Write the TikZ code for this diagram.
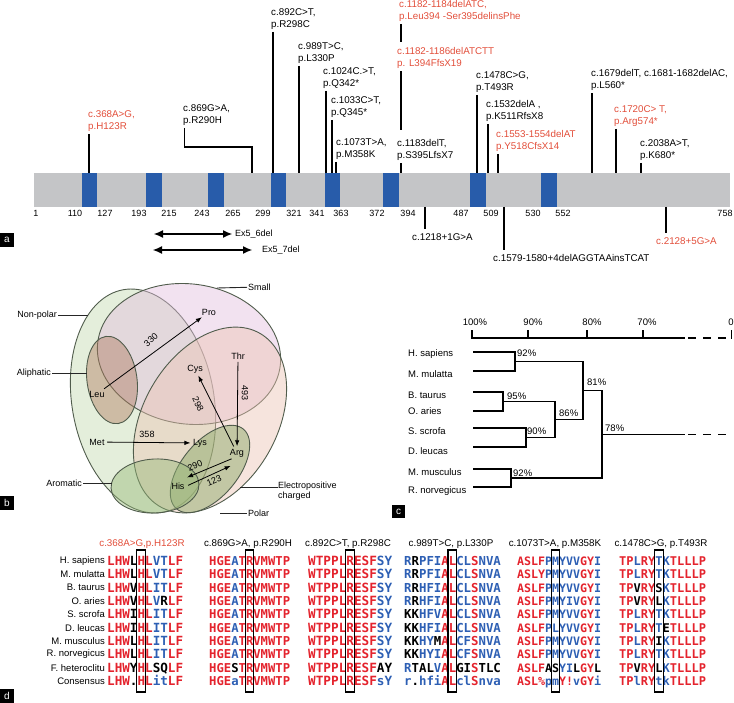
\documentclass[tikz,border=0pt]{standalone}
\usepackage{fontspec}
\setmainfont{Liberation Sans}
\newfontfamily\seqfont{DejaVu Sans Mono}
\usetikzlibrary{arrows.meta}
\definecolor{mutred}{RGB}{226,78,58}
\definecolor{exonblue}{RGB}{40,92,170}
\definecolor{bargray}{RGB}{196,197,199}
\definecolor{seqred}{RGB}{228,35,45}
\definecolor{seqblue}{RGB}{45,95,180}
\definecolor{vennline}{RGB}{80,92,76}
\definecolor{vnonpolar}{RGB}{196,218,176}
\definecolor{vsmall}{RGB}{226,190,222}
\definecolor{vpolar}{RGB}{236,196,180}
\definecolor{valiph}{RGB}{176,124,96}
\definecolor{vepos}{RGB}{130,165,95}
\definecolor{varom}{RGB}{150,185,120}
\newcommand\aR[1]{\textcolor{seqred}{#1}}
\newcommand\aB[1]{\textcolor{seqblue}{#1}}
\newcommand\aK[1]{\textcolor{black}{#1}}

\tikzset{
  mut/.style={font=\fontsize{9.8}{11.5}\selectfont, align=left, anchor=north west, inner sep=0pt},
  stem/.style={line width=1.3pt},
  numlbl/.style={font=\fontsize{9}{10}\selectfont, inner sep=0pt},
  plabel/.style={fill=black, text=white, font=\fontsize{10}{10}\selectfont, minimum width=14pt, minimum height=14pt, inner sep=0pt},
  venn/.style={draw=vennline, line width=0.9pt, fill opacity=0.45},
  aa/.style={font=\fontsize{9}{10}\selectfont, inner sep=1pt},
  lead/.style={line width=0.9pt, draw=black!85},
  arr/.style={-{Latex[length=6pt,width=4.5pt]}, line width=0.8pt, shorten <=1.5pt, shorten >=1.5pt},
  dbl/.style={{Latex[length=9pt,width=8pt]}-{Latex[length=9pt,width=8pt]}, line width=1.1pt},
  dendro/.style={line width=1.2pt},
  sp/.style={font=\fontsize{9.5}{10}\selectfont, inner sep=0pt},
  ttl/.style={font=\fontsize{9.8}{10}\selectfont, inner sep=0pt},
  seq/.style={font=\seqfont\bfseries\fontsize{#1}{#1}\selectfont, inner sep=0pt, anchor=base west},
  colbox/.style={line width=1.1pt}
}

\begin{document}
\begin{tikzpicture}[x=1pt,y=-1pt]
\useasboundingbox (0,0) rectangle (734,703);

% ---------- a: protein map
\fill[bargray] (34,173) rectangle (730,207);
\foreach \a/\b in {82/97,146/162,208/224,271/286,325/340,383/399,470/486,541/557}
  \fill[exonblue] (\a,173) rectangle (\b,207);
\coordinate (bartop) at (0,173);
\coordinate (barbot) at (0,207);
\foreach \x/\v in {36/1,75/110,105/127,139/193,169/215,202/243,233/265,263/299,294/321,317/341,341/363,
                   377/372,408/394,461/487,491/509,533/530,563/552,725/758}
  \node[numlbl] (n\v) at (\x,213) {\v};

\foreach \n/\x/\y/\col/\txt in {
  m368/88/110.5/mutred/{c.368A>G,\\p.H123R},
  m869/183/104.5/black/{c.869G>A,\\p.R290H},
  m892/271/8.5/black/{c.892C>T,\\p.R298C},
  m989/298/42.5/black/{c.989T>C,\\p.L330P},
  m1024/323/67.5/black/{c.1024C.>T,\\p.Q342*},
  m1033/331/96.5/black/{c.1033C>T,\\p.Q345*},
  m1073/336/138.5/black/{c.1073T>A,\\p.M358K},
  m1182a/399/0.5/mutred/{c.1182-1184delATC,\\p.Leu394 -Ser395delinsPhe},
  m1182b/397/47.5/mutred/{c.1182-1186delATCTT\\p. L394FfsX19},
  m1183/397/139.5/black/{c.1183delT,\\p.S395LfsX7},
  m1478/476/71.5/black/{c.1478C>G,\\p.T493R},
  m1532/486/100.5/black/{c.1532delA ,\\p.K511RfsX8},
  m1553/496/130.5/mutred/{c.1553-1554delAT\\p.Y518CfsX14},
  m1679/591/69.5/black/{c.1679delT, c.1681-1682delAC,\\p.L560*},
  m1720/614/105.5/mutred/{c.1720C> T,\\p.Arg574*},
  m2038/640/139.5/black/{c.2038A>T,\\p.K680*},
  m1218/412/233.5/black/{c.1218+1G>A},
  m1579/493/254.5/black/{c.1579-1580+4delAGGTAAinsTCAT},
  m2128/656/237.5/mutred/{c.2128+5G>A}}
  { \node[mut, text=\col] (\n) at (\x,\y) {\txt}; }

\foreach \n/\sx in {m368/89,m892/273,m989/299,m1024/326,m1033/332,m1073/336,m1183/401,
                    m1478/477,m1532/488,m1553/498,m1679/592,m1720/616,m2038/641}{
  \coordinate (\n-s) at (\sx,173);
  \draw[stem, shorten <=2.5pt] (\n.south -| \n-s) -- (\n-s);
}
\draw[stem, shorten <=2.5pt, shorten >=5pt] (m1182a.south -| m1183-s) -- (m1182b.north -| m1183-s);
\draw[stem, shorten <=2.5pt, shorten >=9pt] (m1182b.south -| m1183-s) -- (m1183.north -| m1183-s);
\coordinate (m869-k) at (252,147);
\draw[stem, shorten <=2.5pt] ([xshift=1.5pt]m869.south west) |- (m869-k) -- (m869-k |- bartop);
\foreach \n/\sx in {m1218/425,m1579/504,m2128/666}{
  \coordinate (\n-s) at (\sx,207);
  \draw[stem, shorten >=4pt] (\n-s) -- (\n.north -| \n-s);
}

% exon deletions
\coordinate (e56a) at (154,234); \coordinate (e56b) at (232,234);
\coordinate (e57a) at (153,250); \coordinate (e57b) at (252,250);
\node[numlbl, anchor=west] (e56) at (235,234) {Ex5\_6del};
\node[numlbl, anchor=west] (e57) at (262,250) {Ex5\_7del};
\draw[dbl] (e56a) -- (e56b);
\draw[dbl] (e57a) -- (e57b);
\node[plabel] (pa) at (7,240) {a};

% ---------- b: Venn of residues
\filldraw[venn, fill=vnonpolar, rotate around={10:(143,401)}] (143,401) ellipse [x radius=71, y radius=113];
\filldraw[venn, fill=vsmall, rotate around={-8:(189,354)}] (189,354) ellipse [x radius=92, y radius=70];
\filldraw[venn, fill=vpolar, rotate around={-30:(210,420)}] (210,420) ellipse [x radius=67, y radius=100];
\filldraw[venn, fill=valiph, rotate around={8:(112,380)}] (112,380) ellipse [x radius=25, y radius=44];
\filldraw[venn, fill=vepos, rotate around={-40:(210,469)}] (210,469) ellipse [x radius=28, y radius=52];
\filldraw[venn, fill=varom, rotate around={3:(155,486)}] (155,486) ellipse [x radius=44, y radius=27];

\node[aa, anchor=west] (lsmall) at (247,287) {Small};
\node[aa, anchor=east] (lnonpolar) at (58,315) {Non-polar};
\node[aa, anchor=east] (laliph) at (52,373) {Aliphatic};
\node[aa, anchor=east] (larom) at (83,483) {Aromatic};
\node[aa, anchor=north west, align=left, inner sep=0pt] (lepos) at (278,482) {Electropositive\\charged};
\node[aa, anchor=west] (lpolar) at (247,513) {Polar};
\coordinate (psmall) at (217,288);
\coordinate (pnonpolar) at (88,315);
\coordinate (paliph) at (87,373);
\coordinate (parom) at (112,483);
\coordinate (pepos) at (240,487);
\coordinate (ppolar) at (220,513);
\draw[lead] (psmall) -- (lsmall);
\draw[lead] (lnonpolar) -- (pnonpolar);
\draw[lead] (laliph) -- (paliph);
\draw[lead] (larom) -- (parom);
\draw[lead] (pepos) -- (pepos -| lepos.west);
\draw[lead] (ppolar) -- (lpolar);

\node[aa] (pro) at (209,312) {Pro};
\node[aa] (thr) at (238,356) {Thr};
\node[aa] (cys) at (195,369) {Cys};
\node[aa] (leu) at (97,394) {Leu};
\node[aa] (met) at (97,442) {Met};
\node[aa] (lys) at (200,443) {Lys};
\node[aa] (arg) at (237,453) {Arg};
\node[aa] (his) at (178,486) {His};
\draw[arr] (leu) -- (pro);
\draw[arr] (thr) -- (arg);
\draw[arr] (arg) -- (cys);
\draw[arr] (met) -- (lys);
\draw[arr] ([xshift=-4pt]arg.south) -- ([yshift=3.5pt]his.north east);
\draw[arr] ([xshift=1pt]his.east) -- ([xshift=-5pt,yshift=-7pt]arg.south);
\node[aa, rotate=42, inner sep=0pt] (w330) at (151,340) {330};
\node[aa, rotate=-90, inner sep=0pt] (w493) at (245,393) {493};
\node[aa, rotate=-65, inner sep=0pt] (w298) at (198,404) {298};
\node[aa, inner sep=0pt] (w358) at (147,434) {358};
\node[aa, rotate=23, inner sep=0pt] (w290) at (195,466) {290};
\node[aa, rotate=23, inner sep=0pt] (w123) at (214,481) {123};
\node[plabel] (pb) at (7,503) {b};

% ---------- c: identity tree
\foreach \x/\v in {475/100\%,533/90\%,592/80\%,647/70\%,731/0}
  \node[sp] at (\x,322) {\v};
\draw[dendro] (472,338) -- (685,338);
\draw[dendro, dash pattern=on 8pt off 7pt, dash phase=12pt] (685,338) -- (732,338);
\foreach \x in {472,528,587,643,731.5}
  \draw[dendro] (\x,338.6) -- ++(0,-8.6);

\foreach \i/\s/\y in {1/H. sapiens/354,2/M. mulatta/374,3/B. taurus/395,4/O. aries/411,
                      5/S. scrofa/431,6/D. leucas/451,7/M. musculus/472,8/R. norvegicus/491}
  \node[sp, anchor=west] (c\i) at (408,\y) {\s};
\foreach \i/\y in {1/352,2/371,3/392,4/411,5/428,6/447,7/469,8/487}
  \coordinate (lf\i) at (473,\y);
\coordinate (n92a) at (515,361.5);
\coordinate (n95) at (503,401.5);
\coordinate (n90) at (526,437.5);
\coordinate (n92b) at (511,478);
\coordinate (n86) at (555,419.5);
\coordinate (n81) at (583,390.5);
\coordinate (n78) at (602,434.5);
\coordinate (rootend) at (685,434.5);
\coordinate (rootdash) at (732,434.5);
\draw[dendro] (lf1) -| (n92a) |- (lf2);
\draw[dendro] (lf3) -| (n95) |- (lf4);
\draw[dendro] (lf5) -| (n90) |- (lf6);
\draw[dendro] (lf7) -| (n92b) |- (lf8);
\draw[dendro] (n95) -| (n86) |- (n90);
\draw[dendro] (n92a) -| (n81) |- (n86);
\draw[dendro] (n81) -| (n78) |- (n92b);
\draw[dendro] (n78) -- (rootend);
\draw[dendro, dash pattern=on 8pt off 7pt, dash phase=12pt] (rootend) -- (rootdash);
\node[sp, anchor=west] (b92a) at (517,353) {92\%};
\node[sp, anchor=west] (b95) at (507,396) {95\%};
\node[sp, anchor=west] (b90) at (527,431) {90\%};
\node[sp, anchor=west] (b86) at (559,413) {86\%};
\node[sp, anchor=west] (b81) at (587,382) {81\%};
\node[sp, anchor=west] (b78) at (605,428) {78\%};
\node[sp, anchor=west] (b92b) at (513,473) {92\%};
\node[plabel, minimum width=13pt, minimum height=13pt] (pc) at (398.5,511.5) {c};

% ---------- d: alignments
\foreach \s [count=\i] in {H. sapiens,M. mulatta,B. taurus,O. aries,S. scrofa,D. leucas,
                           M. musculus,R. norvegicus,F. heteroclitu,Consensus}
  \node[sp, anchor=east] (d\i) at (105,{547.7+13.33*\i}) {\s};

\node[ttl, text=mutred] (t1) at (142,544) {c.368A>G,p.H123R};
\node[ttl] (t2) at (248,544) {c.869G>A, p.R290H};
\node[ttl] (t3) at (348,544) {c.892C>T, p.R298C};
\node[ttl] (t4) at (451,544) {c.989T>C, p.L330P};
\node[ttl] (t5) at (555,544) {c.1073T>A, p.M358K};
\node[ttl] (t6) at (661,544) {c.1478C>G, p.T493R};

\foreach \s [count=\i] in {
  {\aR{LHW}\aK{L}\aR{HL}\aB{VT}\aR{LF}},{\aR{LHW}\aK{L}\aR{HL}\aB{VT}\aR{LF}},
  {\aR{LHW}\aK{V}\aR{HL}\aB{IT}\aR{LF}},{\aR{LHW}\aK{V}\aR{HL}\aB{V}\aK{R}\aR{LF}},
  {\aR{LHW}\aK{I}\aR{HL}\aB{IT}\aR{LF}},{\aR{LHW}\aK{I}\aR{HL}\aB{IT}\aR{LF}},
  {\aR{LHW}\aK{L}\aR{HL}\aB{IT}\aR{LF}},{\aR{LHW}\aK{L}\aR{HL}\aB{IT}\aR{LF}},
  {\aR{LHW}\aK{Y}\aR{HL}\aK{SQ}\aR{LF}},{\aR{LHW}\aK{.}\aR{HL}\aB{it}\aR{LF}}}
  \node[seq=12.62] (q1r\i) at (107,{552.3+13.33*\i}) {\s};
\draw[colbox] ({107+4*7.6-0.6},550) rectangle ({107+5*7.6+0.6},692);

\foreach \s [count=\i] in {
  {\aR{HGE}\aB{A}\aR{TRVMWTP}},{\aR{HGE}\aB{A}\aR{TRVMWTP}},{\aR{HGE}\aB{A}\aR{TRVMWTP}},
  {\aR{HGE}\aB{A}\aR{TRVMWTP}},{\aR{HGE}\aB{A}\aR{TRVMWTP}},{\aR{HGE}\aB{A}\aR{TRVMWTP}},
  {\aR{HGE}\aB{A}\aR{TRVMWTP}},{\aR{HGE}\aB{A}\aR{TRVMWTP}},{\aR{HGE}\aK{S}\aR{TRVMWTP}},
  {\aR{HGE}\aB{a}\aR{TRVMWTP}}}
  \node[seq=12.23] (q2r\i) at (209,{552.3+13.33*\i}) {\s};
\draw[colbox] ({209+5*7.36-0.6},550) rectangle ({209+6*7.36+0.6},692);

\foreach \s [count=\i] in {
  {\aR{WTPPLRESF}\aB{SY}},{\aR{WTPPLRESF}\aB{SY}},{\aR{WTPPLRESF}\aB{SY}},{\aR{WTPPLRESF}\aB{SY}},
  {\aR{WTPPLRESF}\aB{SY}},{\aR{WTPPLRESF}\aB{SY}},{\aR{WTPPLRESF}\aB{SY}},{\aR{WTPPLRESF}\aB{SY}},
  {\aR{WTPPLRESF}\aK{AY}},{\aR{WTPPLRESF}\aB{sY}}}
  \node[seq=12.69] (q3r\i) at (308,{552.3+13.33*\i}) {\s};
\draw[colbox] ({308+5*7.64-0.6},550) rectangle ({308+6*7.64+0.6},692);

\foreach \s [count=\i] in {
  {\aB{R}\aK{R}\aB{PFI}\aR{AL}\aB{CL}\aR{S}\aB{NVA}},{\aB{R}\aK{R}\aB{PFI}\aR{AL}\aB{CL}\aR{S}\aB{NVA}},
  {\aB{R}\aK{R}\aB{HFI}\aR{AL}\aB{CL}\aR{S}\aB{NVA}},{\aB{R}\aK{R}\aB{HFI}\aR{AL}\aB{CL}\aR{S}\aB{NVA}},
  {\aK{KK}\aB{HFV}\aR{AL}\aB{CL}\aR{S}\aB{NVA}},{\aK{KK}\aB{HFI}\aR{AL}\aB{CL}\aR{S}\aB{NVA}},
  {\aK{KK}\aB{HY}\aK{M}\aR{AL}\aB{CF}\aR{S}\aB{NVA}},{\aK{KK}\aB{HYI}\aR{AL}\aB{CF}\aR{S}\aB{NVA}},
  {\aB{R}\aK{TAL}\aB{V}\aR{AL}\aK{GI}\aR{S}\aK{TLC}},{\aB{r}\aK{.}\aB{hfi}\aR{AL}\aB{cl}\aR{S}\aB{nva}}}
  \node[seq=12.36] (q4r\i) at (404,{552.3+13.33*\i}) {\s};
\draw[colbox] ({404+6*7.44-0.6},550) rectangle ({404+7*7.44+0.6},692);

\foreach \s [count=\i] in {
  {\aR{ASLF}\aB{PMYVV}\aR{GY}\aB{I}},{\aR{ASLY}\aB{PMYVV}\aR{GY}\aB{I}},
  {\aR{ASLF}\aB{PMYVV}\aR{GY}\aB{I}},{\aR{ASLF}\aB{PMYIV}\aR{GY}\aB{I}},
  {\aR{ASLF}\aB{PMYVV}\aR{GY}\aB{I}},{\aR{ASLF}\aB{PLYVV}\aR{GY}\aB{I}},
  {\aR{ASLF}\aB{PMYVV}\aR{GY}\aB{I}},{\aR{ASLF}\aB{PMYVV}\aR{GY}\aB{I}},
  {\aR{ASLF}\aK{AS}\aB{YI}\aK{L}\aR{GY}\aK{L}},{\aR{ASL\%}\aB{pm}\aR{Y!}\aB{v}\aR{GY}\aB{i}}}
  \node[seq=11.63] (q5r\i) at (517,{552.3+13.33*\i}) {\s};
\draw[colbox] ({517+5*7.0-0.6},550) rectangle ({517+6*7.0+0.6},692);

\foreach \s [count=\i] in {
  {\aR{TP}\aB{L}\aR{RY}\aB{TK}\aR{TLLLP}},{\aR{TP}\aB{L}\aR{RY}\aB{TK}\aR{TLLLP}},
  {\aR{TP}\aK{V}\aR{RY}\aK{S}\aB{K}\aR{TLLLP}},{\aR{TP}\aK{V}\aR{RY}\aK{L}\aB{K}\aR{TLLLP}},
  {\aR{TP}\aB{L}\aR{RY}\aB{TK}\aR{TLLLP}},{\aR{TP}\aB{L}\aR{RY}\aB{T}\aK{E}\aR{TLLLP}},
  {\aR{TP}\aB{L}\aR{RY}\aK{I}\aB{K}\aR{TLLLP}},{\aR{TP}\aB{L}\aR{RY}\aB{TK}\aR{TLLLP}},
  {\aR{TP}\aK{V}\aR{RY}\aK{L}\aB{K}\aR{TLLLP}},{\aR{TP}\aB{l}\aR{RY}\aB{tk}\aR{TLLLP}}}
  \node[seq=12.04] (q6r\i) at (619,{552.3+13.33*\i}) {\s};
\draw[colbox] ({619+5*7.25-0.6},550) rectangle ({619+6*7.25+0.6},692);
\node[plabel] (pd) at (7,696) {d};
\end{tikzpicture}
\end{document}
